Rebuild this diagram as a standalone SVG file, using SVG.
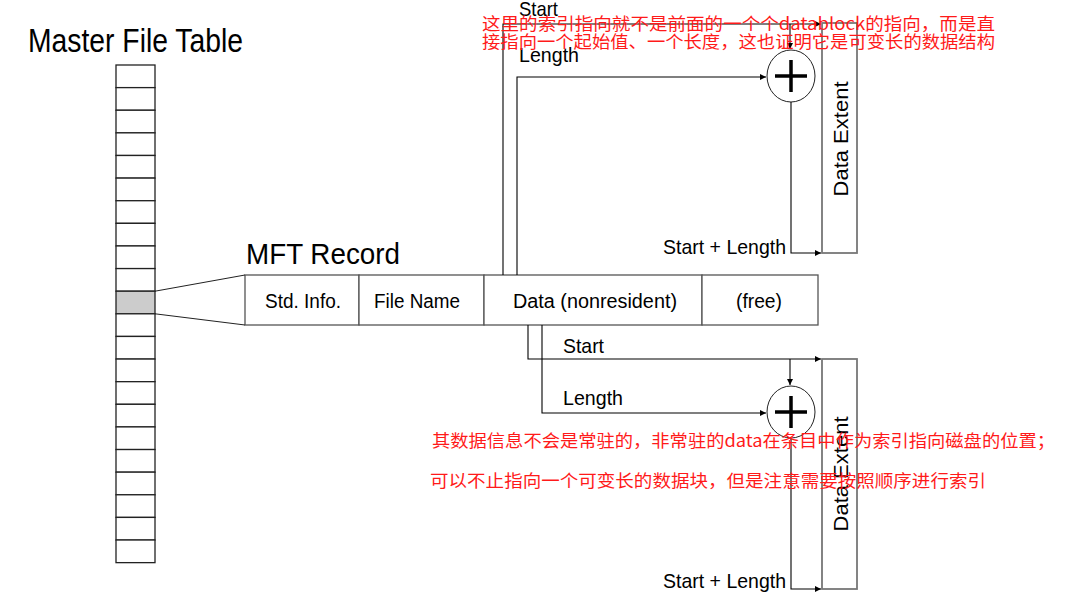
<svg xmlns="http://www.w3.org/2000/svg" width="1068" height="605" viewBox="0 0 1068 605">
<style>
.bg{fill:#fff}
.cell{fill:#fff;stroke:#222;stroke-width:1.3}
.sel{fill:#cccccc;stroke:#222;stroke-width:1.3}
.rec{fill:#fff;stroke:#555;stroke-width:1.3}
.ext{fill:#fff;stroke:#777;stroke-width:1.8}
.add{fill:#fff;stroke:#222;stroke-width:1}
.plus{stroke:#000;stroke-width:3.5;fill:none}
.con{fill:none;stroke:#000;stroke-width:1.1}
.fan{fill:none;stroke:#222;stroke-width:1}
.t{font-family:"Liberation Sans",Arial,sans-serif;fill:#000}
.red{font-family:"Noto Sans CJK SC",sans-serif;fill:#ff1a1a;font-size:17px}
</style>
<defs>
<marker id="ah" viewBox="0 0 10 10" refX="10" refY="5" markerWidth="8" markerHeight="6" markerUnits="userSpaceOnUse" orient="auto">
<path d="M0,0 L10,5 L0,10 z" fill="#000"/>
</marker>
</defs>
<rect class="bg" x="0" y="0" width="1068" height="605"/>

<g id="mft-table">
<text class="t" x="28" y="52" font-size="33" textLength="215" lengthAdjust="spacingAndGlyphs">Master File Table</text>
<rect class="cell" x="116" y="65" width="39" height="22.62"/>
<rect class="cell" x="116" y="87.62" width="39" height="22.62"/>
<rect class="cell" x="116" y="110.24" width="39" height="22.62"/>
<rect class="cell" x="116" y="132.86" width="39" height="22.62"/>
<rect class="cell" x="116" y="155.48" width="39" height="22.62"/>
<rect class="cell" x="116" y="178.1" width="39" height="22.62"/>
<rect class="cell" x="116" y="200.72" width="39" height="22.62"/>
<rect class="cell" x="116" y="223.34" width="39" height="22.62"/>
<rect class="cell" x="116" y="245.96" width="39" height="22.62"/>
<rect class="cell" x="116" y="268.58" width="39" height="22.62"/>
<rect class="sel" x="116" y="291.2" width="39" height="22.62"/>
<rect class="cell" x="116" y="313.82" width="39" height="22.62"/>
<rect class="cell" x="116" y="336.44" width="39" height="22.62"/>
<rect class="cell" x="116" y="359.06" width="39" height="22.62"/>
<rect class="cell" x="116" y="381.68" width="39" height="22.62"/>
<rect class="cell" x="116" y="404.3" width="39" height="22.62"/>
<rect class="cell" x="116" y="426.92" width="39" height="22.62"/>
<rect class="cell" x="116" y="449.54" width="39" height="22.62"/>
<rect class="cell" x="116" y="472.16" width="39" height="22.62"/>
<rect class="cell" x="116" y="494.78" width="39" height="22.62"/>
<rect class="cell" x="116" y="517.4" width="39" height="22.62"/>
<rect class="cell" x="116" y="540.02" width="39" height="22.62"/>
</g>

<g id="mft-record">
<text class="t" x="246" y="264" font-size="30" textLength="154" lengthAdjust="spacingAndGlyphs">MFT Record</text>
<rect class="rec" x="245" y="275" width="114" height="50"/>
<rect class="rec" x="359" y="275" width="125" height="50"/>
<rect class="rec" x="484" y="275" width="218" height="50"/>
<rect class="rec" x="702" y="275" width="116" height="50"/>
<text class="t" x="265" y="308" font-size="20" textLength="76" lengthAdjust="spacingAndGlyphs">Std. Info.</text>
<text class="t" x="374" y="308" font-size="20" textLength="86" lengthAdjust="spacingAndGlyphs">File Name</text>
<text class="t" x="513" y="308" font-size="20" textLength="164" lengthAdjust="spacingAndGlyphs">Data (nonresident)</text>
<text class="t" x="736" y="308" font-size="20" textLength="46" lengthAdjust="spacingAndGlyphs">(free)</text>
</g>

<g id="extent-top">
<rect class="ext" x="822" y="23" width="35" height="230"/>
<text class="t" font-size="21" transform="translate(848,139) rotate(-90)" text-anchor="middle" textLength="115" lengthAdjust="spacingAndGlyphs">Data Extent</text>
</g>
<g id="adder-top">
<ellipse class="add" cx="791" cy="76" rx="24" ry="26"/>
<path class="plus" d="M775,76 H807 M791,60 V92"/>
</g>

<g id="extent-bottom">
<rect class="ext" x="822" y="359" width="35" height="230"/>
<text class="t" font-size="21" transform="translate(848,474) rotate(-90)" text-anchor="middle" textLength="115" lengthAdjust="spacingAndGlyphs">Data Extent</text>
</g>
<g id="adder-bottom">
<ellipse class="add" cx="791" cy="412" rx="24" ry="26"/>
<path class="plus" d="M775,412 H807 M791,396 V428"/>
</g>

<g id="connectors">
<path class="fan" d="M155,291.2 L245,275"/>
<path class="fan" d="M155,313.8 L245,325"/>
<path class="con" d="M503,275 V24 H821" marker-end="url(#ah)"/>
<path class="con" d="M790,24 V49" marker-end="url(#ah)"/>
<path class="con" d="M517,275 V77 H766" marker-end="url(#ah)"/>
<path class="con" d="M791,102 V253 H821" marker-end="url(#ah)"/>
<path class="con" d="M528,325 V359 H821" marker-end="url(#ah)"/>
<path class="con" d="M790,359 V385" marker-end="url(#ah)"/>
<path class="con" d="M542,325 V413 H766" marker-end="url(#ah)"/>
<path class="con" d="M791,438 V589 H821" marker-end="url(#ah)"/>
<text class="t" x="519" y="16" font-size="21" textLength="39" lengthAdjust="spacingAndGlyphs">Start</text>
<text class="t" x="519" y="62" font-size="21" textLength="60" lengthAdjust="spacingAndGlyphs">Length</text>
<text class="t" x="663" y="254" font-size="21" textLength="123" lengthAdjust="spacingAndGlyphs">Start + Length</text>
<text class="t" x="563" y="353" font-size="21" textLength="41" lengthAdjust="spacingAndGlyphs">Start</text>
<text class="t" x="563" y="405" font-size="21" textLength="60" lengthAdjust="spacingAndGlyphs">Length</text>
<text class="t" x="663" y="588" font-size="21" textLength="123" lengthAdjust="spacingAndGlyphs">Start + Length</text>
</g>

<g id="annotations">
<text class="red" x="482" y="30" textLength="513" lengthAdjust="spacingAndGlyphs">这里的索引指向就不是前面的一个个datablock的指向，而是直</text>
<text class="red" x="482" y="48" textLength="513" lengthAdjust="spacingAndGlyphs">接指向一个起始值、一个长度，这也证明它是可变长的数据结构</text>
<text class="red" x="432" y="447" textLength="623" lengthAdjust="spacingAndGlyphs">其数据信息不会是常驻的，非常驻的data在条目中作为索引指向磁盘的位置；</text>
<text class="red" x="430" y="487" textLength="556" lengthAdjust="spacingAndGlyphs">可以不止指向一个可变长的数据块，但是注意需要按照顺序进行索引</text>
</g>
</svg>
